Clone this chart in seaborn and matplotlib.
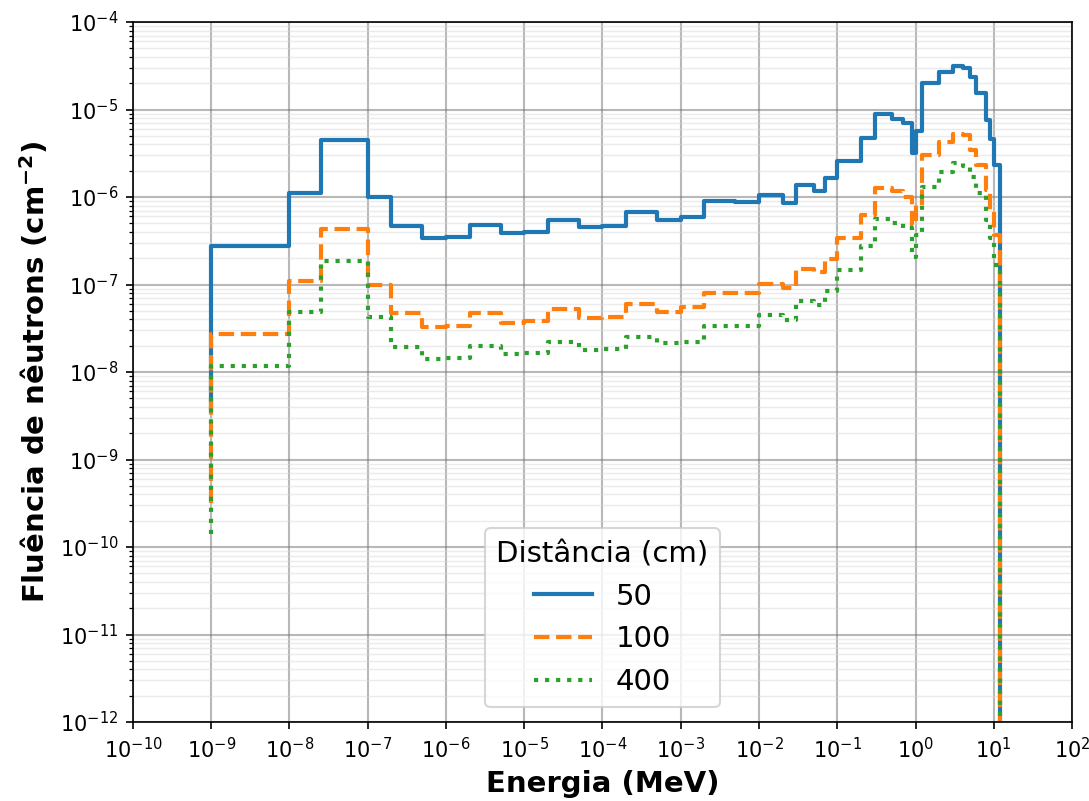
import numpy as np
import pandas as pd
import matplotlib
matplotlib.use("Agg")
import matplotlib.pyplot as plt
import seaborn as sns

# Upper energy edge of each bin (MeV); first entry is the lower edge of the first drawn bin
energia = [1e-9, 1e-8, 2.5e-8, 1e-7, 2e-7, 5e-7, 1e-6, 2e-6, 5e-6, 1e-5, 2e-5,
           5e-5, 1e-4, 2e-4, 5e-4, 1e-3, 2e-3, 5e-3, 1e-2, 2e-2, 3e-2, 5e-2,
           7e-2, 1e-1, 2e-1, 3e-1, 5e-1, 0.7, 0.9, 1.0, 1.2, 2.0, 3.0, 4.0,
           5.0, 6.0, 8.0, 9.0, 10.0, 12.0, 20.0]

fluencia_50 = [4e-9, 2.78e-7, 1.1e-6, 4.5e-6, 9.9e-7, 4.67e-7, 3.43e-7, 3.52e-7,
               4.78e-7, 3.85e-7, 3.95e-7, 5.46e-7, 4.5e-7, 4.67e-7, 6.7e-7,
               5.46e-7, 5.96e-7, 9.1e-7, 8.7e-7, 1.06e-6, 8.55e-7, 1.36e-6,
               1.17e-6, 1.67e-6, 2.55e-6, 4.75e-6, 8.85e-6, 7.85e-6, 6.95e-6,
               3.16e-6, 5.65e-6, 2.0e-5, 2.7e-5, 3.16e-5, 2.95e-5, 2.37e-5,
               1.56e-5, 7.6e-6, 4.57e-6, 2.32e-6, 0.0]

fluencia_100 = [3.2e-10, 2.72e-8, 1.1e-7, 4.3e-7, 9.9e-8, 4.68e-8, 3.24e-8, 3.36e-8,
                4.68e-8, 3.67e-8, 3.83e-8, 5.2e-8, 4.1e-8, 4.28e-8, 5.94e-8,
                4.8e-8, 5.5e-8, 8.05e-8, 8.0e-8, 1.02e-7, 9.1e-8, 1.49e-7,
                1.4e-7, 1.94e-7, 3.4e-7, 6.3e-7, 1.26e-6, 1.18e-6, 9.9e-7,
                4.8e-7, 8.1e-7, 3.0e-6, 4.3e-6, 5.3e-6, 5.1e-6, 3.45e-6,
                2.3e-6, 1.2e-6, 7.0e-7, 3.7e-7, 0.0]

fluencia_400 = [1.4e-10, 1.18e-8, 4.8e-8, 1.86e-7, 4.28e-8, 1.91e-8, 1.4e-8, 1.46e-8,
                2.0e-8, 1.6e-8, 1.66e-8, 2.22e-8, 1.78e-8, 1.85e-8, 2.5e-8,
                2.13e-8, 2.22e-8, 3.36e-8, 3.36e-8, 4.45e-8, 3.9e-8, 6.4e-8,
                5.8e-8, 8.5e-8, 1.47e-7, 2.78e-7, 5.6e-7, 5.0e-7, 4.4e-7,
                2.06e-7, 3.7e-7, 1.31e-6, 1.95e-6, 2.43e-6, 2.26e-6, 1.7e-6,
                1.12e-6, 5.5e-7, 3.4e-7, 1.67e-7, 0.0]

distancias = ["50", "100", "400"]
cores = ["#1f77b4", "#ff7f0e", "#2ca02c"]

frames = []
for d, f in zip(distancias, [fluencia_50, fluencia_100, fluencia_400]):
    frames.append(pd.DataFrame({"Energia": energia, "Fluencia": f,
                                "Distância (cm)": d}))
df = pd.concat(frames, ignore_index=True)

fig, ax = plt.subplots(figsize=(7.26, 5.34), dpi=150)
fig.subplots_adjust(left=0.1221, right=0.9844, top=0.9725, bottom=0.0986)

sns.lineplot(data=df, x="Energia", y="Fluencia", hue="Distância (cm)",
             style="Distância (cm)", hue_order=distancias, style_order=distancias,
             palette=dict(zip(distancias, cores)),
             dashes={"50": "", "100": (3.7, 1.6), "400": (1, 1.65)},
             drawstyle="steps-pre", linewidth=2.0, estimator=None, sort=False,
             ax=ax)

ax.set_xscale("log")
ax.set_yscale("log")
ax.set_xlim(1e-10, 1e2)
ax.set_ylim(1e-12, 1e-4)
ax.xaxis.set_major_locator(matplotlib.ticker.LogLocator(base=10, numticks=20))
ax.yaxis.set_major_locator(matplotlib.ticker.LogLocator(base=10, numticks=20))

ax.grid(which="major", color="0.45", alpha=0.5, linewidth=1.0)
ax.grid(which="minor", color="0.85", alpha=0.5, linewidth=0.7)
ax.set_axisbelow(True)
ax.tick_params(axis="both", which="major", labelsize=10)

ax.set_xlabel("Energia (MeV)", fontsize=14, fontweight="bold")
ax.set_ylabel("Fluência de nêutrons (cm$^{\\mathbf{-2}}$)", fontsize=14,
              fontweight="bold")

sns.move_legend(ax, "lower center", title="Distância (cm)", fontsize=14,
                title_fontsize=14, frameon=True)

fig.savefig("out.png", dpi=150)
